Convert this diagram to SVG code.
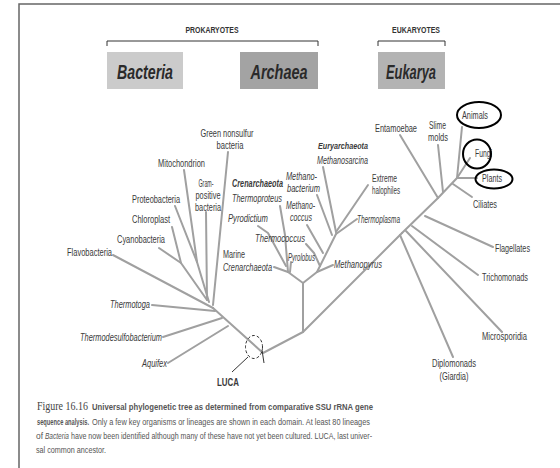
<svg xmlns="http://www.w3.org/2000/svg" width="560" height="468" viewBox="0 0 560 468">
<style>
.t{font-family:"Liberation Sans",Arial,sans-serif;font-size:10px;fill:#3a3a3a}
.i{font-style:italic}
.b{font-weight:bold}
.m{text-anchor:middle}
.br{stroke:#a0a0a0;stroke-width:2;fill:none;stroke-linecap:round;stroke-linejoin:round}
.dk{stroke:#333;fill:none}
.dom{font-family:"Liberation Sans",Arial,sans-serif;font-size:21px;font-weight:bold;font-style:italic;fill:#2a2a2a;text-anchor:middle}
.hd{font-family:"Liberation Sans",Arial,sans-serif;font-size:9px;font-weight:bold;fill:#333;text-anchor:middle}
.cap{font-family:"Liberation Sans",Arial,sans-serif;font-size:7px;fill:#555}
.fig{font-family:"Liberation Serif","Times New Roman",serif;font-size:10px;fill:#444}
</style>
<rect x="0" y="0" width="560" height="468" fill="#fff"/>
<path d="M19,468 V4 H560" stroke="#666" stroke-width="1.5" fill="none"/>

<g id="header">
<text class="hd" x="212" y="33" textLength="53" lengthAdjust="spacingAndGlyphs">PROKARYOTES</text>
<path class="dk" d="M107,46 V41 H318 V46" stroke="#777"/>
<text class="hd" x="416" y="33" textLength="48" lengthAdjust="spacingAndGlyphs">EUKARYOTES</text>
<path class="dk" d="M378,46 V41 H445 V46" stroke="#777"/>
</g>

<g id="bacteria-box"><rect x="107" y="52" width="76" height="37" fill="#cbcbcb"/><text class="dom" x="145" y="79" textLength="56" lengthAdjust="spacingAndGlyphs">Bacteria</text></g>
<g id="archaea-box"><rect x="240" y="52" width="78" height="37" fill="#a3a3a3"/><text class="dom" x="279" y="79" textLength="57" lengthAdjust="spacingAndGlyphs">Archaea</text></g>
<g id="eukarya-box"><rect x="378" y="52" width="67" height="37" fill="#b3b3b3"/><text class="dom" x="411" y="79" textLength="50" lengthAdjust="spacingAndGlyphs">Eukarya</text></g>

<g id="connectors" class="br">
<path d="M213,308 L263,353 L303,332 L402,233"/>
<path d="M303,332 V283"/>
<path d="M113,255 L213,308"/>
<path d="M159,248 L181,263 L207,300"/>
<path d="M172,227 L181,263"/>
<path d="M175,206 L197,262 L209,302"/>
<path d="M184,170 L197,262"/>
<path d="M206,212 L207,300"/>
<path d="M228,152 L213,305"/>
<path d="M152,305 L215,311"/>
<path d="M163,337 L222,318"/>
<path d="M168,363 L228,326"/>
<path d="M303,283 L288,272"/>
<path d="M274,267 L288,272"/>
<path d="M280,206 L285,235 L288,272"/>
<path d="M258,226 L268,233 L286,266"/>
<path d="M291,262 L290,272"/>
<path d="M303,283 L317,272 L336,234"/>
<path d="M333,265 L317,272"/>
<path d="M306,244 L314,253 L320,266"/>
<path d="M307,225 L323,253"/>
<path d="M323,167 L336,232"/>
<path d="M317,195 L332,235"/>
<path d="M368,185 L336,232"/>
<path d="M357,219 L336,234"/>
<path d="M402,233 L438,198 L457,178"/>
<path d="M400,235 L453,357"/>
<path d="M406,231 L502,332"/>
<path d="M412,226 L478,275"/>
<path d="M425,216 L493,247"/>
<path d="M400,135 L438,198"/>
<path d="M438,145 L443,192"/>
<path d="M453,184 L472,197"/>
<path d="M457,178 L462,127"/>
<path d="M457,178 L470,158"/>
<path d="M457,178 L477,178"/>
</g>

<g id="luca">
<ellipse cx="254" cy="347" rx="8.5" ry="11.5" stroke="#333" stroke-width="1" fill="none" stroke-dasharray="3,2"/>
<path d="M262,350 L264,363" stroke="#333" stroke-width="1"/>
<path d="M232,372 L248,357" stroke="#333" stroke-width="1"/>
<text class="t b m" x="228" y="386" textLength="22" lengthAdjust="spacingAndGlyphs">LUCA</text>
</g>

<g id="bacteria-labels">
<text class="t" x="67" y="256" textLength="45" lengthAdjust="spacingAndGlyphs">Flavobacteria</text>
<text class="t" x="117" y="243" textLength="48" lengthAdjust="spacingAndGlyphs">Cyanobacteria</text>
<text class="t" x="132" y="223" textLength="38" lengthAdjust="spacingAndGlyphs">Chloroplast</text>
<text class="t" x="132" y="203" textLength="48" lengthAdjust="spacingAndGlyphs">Proteobacteria</text>
<text class="t" x="158" y="167" textLength="47" lengthAdjust="spacingAndGlyphs">Mitochondrion</text>
<text class="t m" x="206" y="187" textLength="15" lengthAdjust="spacingAndGlyphs">Gram-</text>
<text class="t m" x="208" y="199" textLength="25" lengthAdjust="spacingAndGlyphs">positive</text>
<text class="t m" x="208" y="211" textLength="26" lengthAdjust="spacingAndGlyphs">bacteria</text>
<text class="t m" x="227" y="137" textLength="53" lengthAdjust="spacingAndGlyphs">Green nonsulfur</text>
<text class="t m" x="230" y="149" textLength="27" lengthAdjust="spacingAndGlyphs">bacteria</text>
<text class="t i" x="110" y="308" textLength="40" lengthAdjust="spacingAndGlyphs">Thermotoga</text>
<text class="t i" x="80" y="341" textLength="82" lengthAdjust="spacingAndGlyphs">Thermodesulfobacterium</text>
<text class="t i" x="142" y="367" textLength="25" lengthAdjust="spacingAndGlyphs">Aquifex</text>
</g>

<g id="archaea-labels">
<text class="t i b" transform="translate(318,149) scale(1,1.38)" x="0" y="0" style="font-size:7.2px" textLength="50" lengthAdjust="spacingAndGlyphs">Euryarchaeota</text>
<text class="t i" x="317" y="164" textLength="51" lengthAdjust="spacingAndGlyphs">Methanosarcina</text>
<text class="t i b" transform="translate(232,187) scale(1,1.37)" x="0" y="0" style="font-size:7.3px" textLength="51" lengthAdjust="spacingAndGlyphs">Crenarchaeota</text>
<text class="t i" transform="translate(232,202) scale(1,1.35)" x="0" y="0" style="font-size:7.4px" textLength="50" lengthAdjust="spacingAndGlyphs">Thermoproteus</text>
<text class="t i" x="286" y="180" textLength="31" lengthAdjust="spacingAndGlyphs">Methano-</text>
<text class="t i" x="287" y="192" textLength="33" lengthAdjust="spacingAndGlyphs">bacterium</text>
<text class="t" x="372" y="182" textLength="25" lengthAdjust="spacingAndGlyphs">Extreme</text>
<text class="t" x="372" y="194" textLength="28" lengthAdjust="spacingAndGlyphs">halophiles</text>
<text class="t i" x="228" y="222" textLength="40" lengthAdjust="spacingAndGlyphs">Pyrodictium</text>
<text class="t i" x="286" y="209" textLength="29" lengthAdjust="spacingAndGlyphs">Methano-</text>
<text class="t i" x="290" y="221" textLength="22" lengthAdjust="spacingAndGlyphs">coccus</text>
<text class="t i" x="357" y="223" textLength="43" lengthAdjust="spacingAndGlyphs">Thermoplasma</text>
<text class="t i" x="255" y="242" textLength="50" lengthAdjust="spacingAndGlyphs">Thermococcus</text>
<text class="t i" x="288" y="261" textLength="27" lengthAdjust="spacingAndGlyphs">Pyrolobus</text>
<text class="t" x="223" y="258" textLength="22" lengthAdjust="spacingAndGlyphs">Marine</text>
<text class="t i" x="223" y="271" textLength="49" lengthAdjust="spacingAndGlyphs">Crenarchaeota</text>
<text class="t i" x="334" y="268" textLength="48" lengthAdjust="spacingAndGlyphs">Methanopyrus</text>
</g>

<g id="eukarya-labels">
<text class="t" x="375" y="132" textLength="42" lengthAdjust="spacingAndGlyphs">Entamoebae</text>
<text class="t" x="429" y="129" textLength="17" lengthAdjust="spacingAndGlyphs">Slime</text>
<text class="t" x="428" y="141" textLength="20" lengthAdjust="spacingAndGlyphs">molds</text>
<text class="t" x="462" y="119" textLength="26" lengthAdjust="spacingAndGlyphs">Animals</text>
<text class="t" x="475" y="157" textLength="17" lengthAdjust="spacingAndGlyphs">Fungi</text>
<text class="t" x="482" y="182" textLength="20" lengthAdjust="spacingAndGlyphs">Plants</text>
<text class="t" x="473" y="208" textLength="24" lengthAdjust="spacingAndGlyphs">Ciliates</text>
<text class="t" x="495" y="252" textLength="35" lengthAdjust="spacingAndGlyphs">Flagellates</text>
<text class="t" x="482" y="281" textLength="46" lengthAdjust="spacingAndGlyphs">Trichomonads</text>
<text class="t" x="482" y="340" textLength="45" lengthAdjust="spacingAndGlyphs">Microsporidia</text>
<text class="t m" x="454" y="367" textLength="44" lengthAdjust="spacingAndGlyphs">Diplomonads</text>
<text class="t m" x="454" y="380" textLength="29" lengthAdjust="spacingAndGlyphs">(Giardia)</text>
</g>

<g id="highlights" fill="none" stroke="#000" stroke-width="2">
<ellipse cx="479" cy="115" rx="22" ry="13"/>
<ellipse cx="477" cy="154" rx="14" ry="14.5"/>
<ellipse cx="494" cy="179" rx="18.5" ry="9.5"/>
</g>

<g id="caption">
<text class="fig" transform="translate(37,410) scale(1,1.3)" x="0" y="0" textLength="51" lengthAdjust="spacingAndGlyphs">Figure 16.16</text>
<text class="cap b" transform="translate(37,425) scale(1,1.65)" x="0" y="0" style="font-size:5.7px" textLength="52" lengthAdjust="spacingAndGlyphs">sequence analysis.</text>
<g transform="scale(1,1.35)">
<text class="cap b" x="92" y="303.7" textLength="281" lengthAdjust="spacingAndGlyphs">Universal phylogenetic tree as determined from comparative SSU rRNA gene</text>
<text class="cap" x="92" y="314.8" textLength="278" lengthAdjust="spacingAndGlyphs">Only a few key organisms or lineages are shown in each domain. At least 80 lineages</text>
<text class="cap" x="36" y="325.2" textLength="7" lengthAdjust="spacingAndGlyphs">of</text>
<text class="cap i" x="45" y="325.2" textLength="24" lengthAdjust="spacingAndGlyphs">Bacteria</text>
<text class="cap" x="71" y="325.2" textLength="301" lengthAdjust="spacingAndGlyphs">have now been identified although many of these have not yet been cultured. LUCA, last univer-</text>
<text class="cap" x="36" y="335.6" textLength="70" lengthAdjust="spacingAndGlyphs">sal common ancestor.</text>
</g>
</g>
</svg>
